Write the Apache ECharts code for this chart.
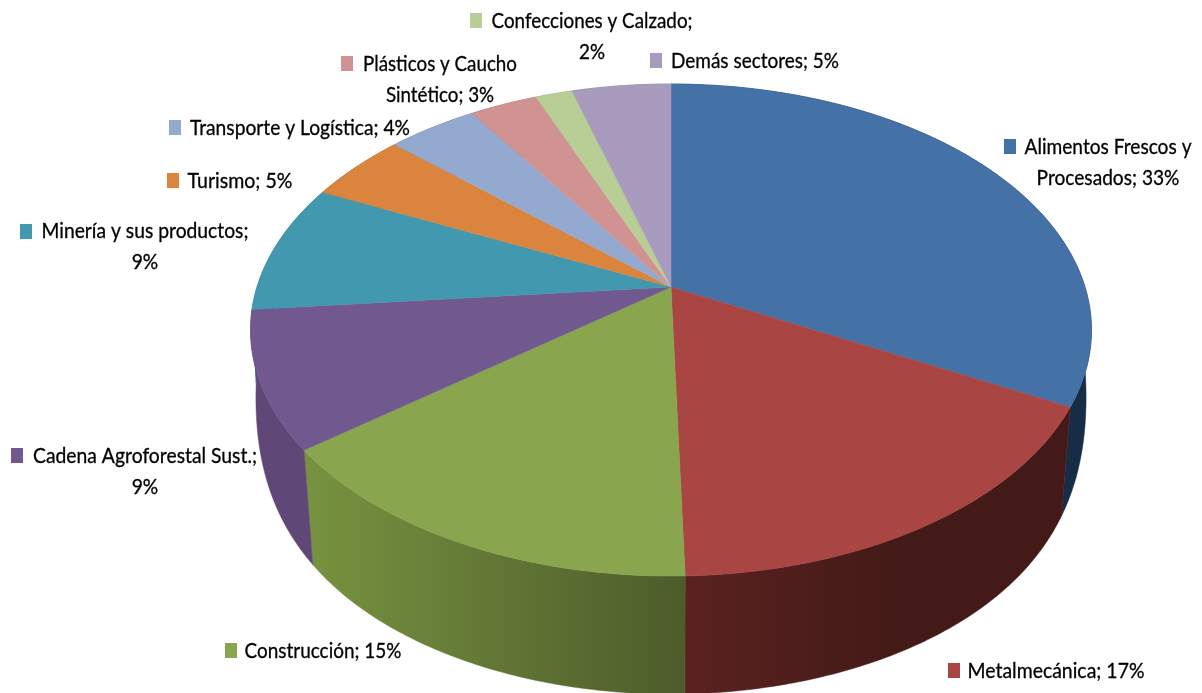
<!DOCTYPE html>
<html>
<head>
<meta charset="utf-8">
<style>
  html, body { margin: 0; padding: 0; background: #fff; }
  #chart { width: 1202px; height: 693px; }
</style>
<script src="https://cdn.jsdelivr.net/npm/echarts@6/dist/echarts.min.js"></script>
</head>
<body>
<div id="chart"></div>
<script>
  const categories = ['Alimentos Frescos y Procesados', 'Metalmecánica', 'Construcción', 'Cadena Agroforestal Sust.', 'Minería y sus productos', 'Turismo', 'Transporte y Logística', 'Plásticos y Caucho Sintético', 'Confecciones y Calzado', 'Demás sectores']
  const values = [32.7, 16.9, 15.0, 9.0, 8.5, 4.6, 4.1, 3.1, 1.7, 4.5]

  const colors = ['#4471a6', '#a94543', '#89a54e', '#71588f', '#4198af', '#db843d', '#93a9cf', '#d19392', '#b9cd96', '#a99bbd']
  const wallFrom = ['#172d47', '#5a2220', '#76913f', '#5f4877', '#2c6a7a', '#98592a', '#64748f', '#8f6463', '#7f8d67', '#746a82']
  const wallTo = ['#172d47', '#431a17', '#4d5c2a', '#5f4877', '#2c6a7a', '#98592a', '#64748f', '#8f6463', '#7f8d67', '#746a82']
  const wallRange = [[1060, 1095], [683, 900], [315, 683], [255, 317], [250, 330], [300, 400], [400, 480], [480, 540], [540, 580], [580, 671]]

  // label layout: centre x of the text, centre y of first line, first line width, key square left/top, where the text wraps
  const labelX = [1108, 1056, 323, 145, 145, 240, 300, 440, 592, 755]
  const labelY = [147, 671, 651, 456, 231, 181, 128, 64, 21, 61]
  const labelWidth = [167, 177, 157, 224, 207, 105, 220, 154, 201, 168]
  const keyX = [1004, 948, 225, 11, 20, 167, 169, 341, 470, 650]
  const keyY = [139, 663, 643, 448, 224, 173, 120, 56, 13, 53]
  const wrapAfter = ['Frescos y', null, null, 'Sust.;', 'productos;', null, null, 'Caucho', 'Calzado;', null]

  // perspective of the disc
  const center = [671, 287]
  const radiusX = 414
  const radiusY = 238.5
  const tilt = 0.175

  const labelFont = '21px Lato'
  const measure = document.createElement('canvas').getContext('2d')
  measure.font = labelFont

  const total = values.reduce((a, b) => a + b, 0)

  function sliceAngles (i) {
    let before = 0
    for (let k = 0; k < i; k++) before += values[k]
    return [before / total * Math.PI * 2, (before + values[i]) / total * Math.PI * 2]
  }

  function project (angle, lower) {
    let w = 1 + tilt * Math.cos(angle)
    let x = radiusX * Math.sin(angle) / w
    let y = -radiusY * Math.cos(angle) / w
    if (!lower) return [center[0] + x, center[1] + y]
    // the wall gets lower and wider towards the sides of the disc
    let u = Math.pow(Math.min(1, 1 + Math.cos(angle)), 3)
    return [center[0] + x * (0.975 + 0.02 * u), center[1] + y + 118 - 60 * u]
  }

  function arcPoints (i, lower) {
    let a = sliceAngles(i)
    let n = Math.max(4, Math.ceil((a[1] - a[0]) / 0.01))
    let pts = []
    for (let k = 0; k <= n; k++) pts.push(project(a[0] + (a[1] - a[0]) * k / n, lower))
    return pts
  }

  function renderWall (params) {
    let i = params.dataIndex
    let fill = new echarts.graphic.LinearGradient(wallRange[i][0], 0, wallRange[i][1], 0, [
      {offset: 0, color: wallFrom[i]},
      {offset: 1, color: wallTo[i]}
    ], true)
    return {
      type: 'polygon',
      shape: {points: arcPoints(i, false).concat(arcPoints(i, true).reverse())},
      style: {fill: fill, stroke: fill, lineWidth: 0.5}
    }
  }

  function renderTop (params) {
    let i = params.dataIndex
    return {
      type: 'polygon',
      shape: {points: [center].concat(arcPoints(i, false))},
      style: {fill: colors[i], stroke: colors[i], lineWidth: 0.5}
    }
  }

  function renderLabel (params, api) {
    let i = params.dataIndex
    let text = categories[i] + '; ' + Math.round(api.value(1)) + '%'
    if (wrapAfter[i]) text = text.replace(wrapAfter[i] + ' ', wrapAfter[i] + '\n')
    let firstLine = text.split('\n')[0]
    return {
      type: 'group',
      children: [{
        type: 'rect',
        shape: {x: keyX[i], y: keyY[i], width: 12, height: 15},
        style: {fill: colors[i]}
      }, {
        type: 'text',
        x: labelX[i],
        y: labelY[i] - 15.5,
        scaleX: labelWidth[i] / measure.measureText(firstLine).width,
        style: {
          text: text,
          x: 0,
          y: 0,
          align: 'center',
          verticalAlign: 'top',
          lineHeight: 31,
          font: labelFont,
          fill: '#000',
          stroke: '#000',
          lineWidth: 0.3
        }
      }]
    }
  }

  const seriesData = values.map((v, i) => [i, v])

  const chart = echarts.init(document.getElementById('chart'))
  chart.setOption({
    backgroundColor: '#fff',
    animation: false,
    series: [
      {type: 'custom', coordinateSystem: 'none', silent: true, z: 1, data: seriesData, renderItem: renderWall},
      {type: 'custom', coordinateSystem: 'none', silent: true, z: 2, data: seriesData, renderItem: renderTop},
      {type: 'custom', coordinateSystem: 'none', silent: true, z: 3, data: seriesData, renderItem: renderLabel}
    ]
  })
</script>
</body>
</html>
